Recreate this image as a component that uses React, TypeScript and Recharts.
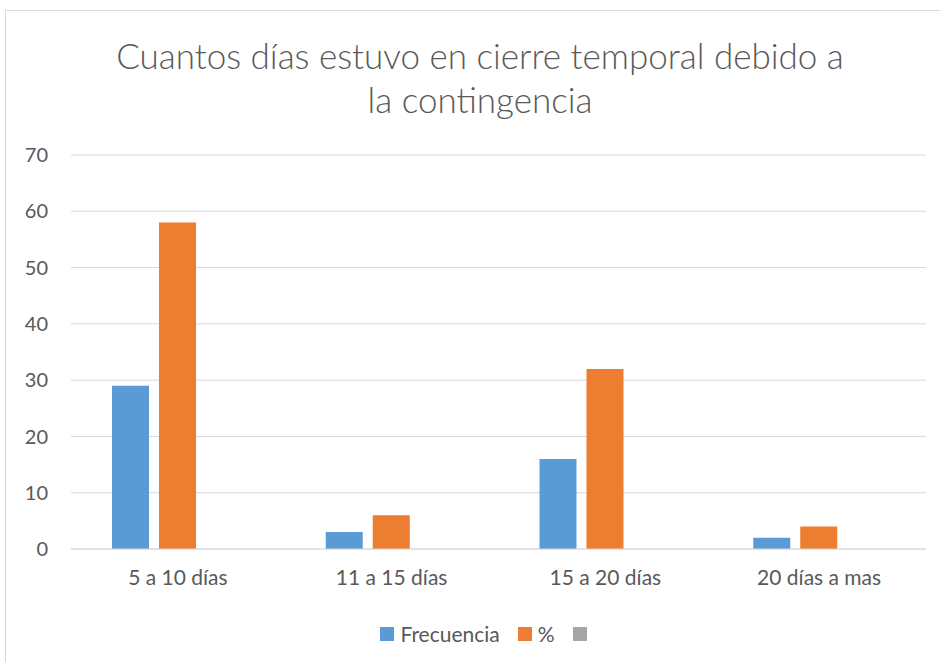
import { BarChart, Bar, XAxis, YAxis, CartesianGrid } from 'recharts';

const categories = ['5 a 10 días', '11 a 15 días', '15 a 20 días', '20 días a mas'];
const frecuencia = [29, 3, 16, 2];
const porcentaje = [58, 6, 32, 4];
const serie3 = [0, 0, 0, 0];
const yTicks = [0, 10, 20, 30, 40, 50, 60, 70];
const seriesNames = ['Frecuencia', '%', ''];
const seriesColors = ['#5B9BD5', '#ED7D31', '#A5A5A5'];

const FONT = 'Lato, "Noto Sans", sans-serif';
const TEXT = '#595959';
const GRID = '#d9d9d9';

const data = categories.map((name, i) => ({
  name,
  frecuencia: frecuencia[i],
  porcentaje: porcentaje[i],
  serie3: serie3[i],
}));

export default function App() {
  return (
    <div style={{ position: 'absolute', left: 0, top: 0, width: 940, height: 662, background: '#fff', overflow: 'hidden' }}>
      <div style={{ position: 'absolute', left: 5, top: 10, width: 960, height: 700, border: `1px solid ${GRID}` }} />
      <div
        style={{
          position: 'absolute',
          left: 0,
          top: 33,
          width: 960,
          textAlign: 'center',
          fontFamily: FONT,
          fontSize: 35,
          fontWeight: 300,
          lineHeight: '44px',
          color: TEXT,
        }}
      >
        Cuantos días estuvo en cierre temporal debido a
        <br />
        la contingencia
      </div>
      <div style={{ position: 'absolute', left: 0, top: 0 }}>
        <BarChart width={940} height={662} data={data} margin={{ top: 155, right: 14, bottom: 83, left: 0 }} barGap={10}>
          <CartesianGrid vertical={false} stroke={GRID} />
          <XAxis
            dataKey="name"
            height={30}
            tickLine={false}
            axisLine={{ stroke: GRID }}
            tickMargin={15}
            tick={{ fontFamily: FONT, fontSize: 21, fill: TEXT }}
          />
          <YAxis
            domain={[0, 70]}
            ticks={yTicks}
            width={71}
            tickLine={false}
            axisLine={false}
            tickMargin={17}
            tick={{ fontFamily: FONT, fontSize: 20, fill: TEXT }}
          />
          <Bar dataKey="frecuencia" name={seriesNames[0]} fill={seriesColors[0]} barSize={37} isAnimationActive={false} />
          <Bar dataKey="porcentaje" name={seriesNames[1]} fill={seriesColors[1]} barSize={37} isAnimationActive={false} />
          <Bar dataKey="serie3" name={seriesNames[2]} fill={seriesColors[2]} barSize={37} isAnimationActive={false} />
        </BarChart>
      </div>
      <div
        style={{
          position: 'absolute',
          left: 0,
          top: 621,
          width: 967,
          display: 'flex',
          justifyContent: 'center',
          alignItems: 'center',
          fontFamily: FONT,
          fontSize: 21,
          color: TEXT,
        }}
      >
        {seriesNames.map((n, i) => (
          <div key={i} style={{ display: 'flex', alignItems: 'center', marginRight: i < seriesNames.length - 1 ? 18 : 0 }}>
            <span style={{ width: 14, height: 14, background: seriesColors[i], display: 'inline-block', marginRight: n ? 6 : 0 }} />
            {n ? <span>{n}</span> : null}
          </div>
        ))}
      </div>
    </div>
  );
}
